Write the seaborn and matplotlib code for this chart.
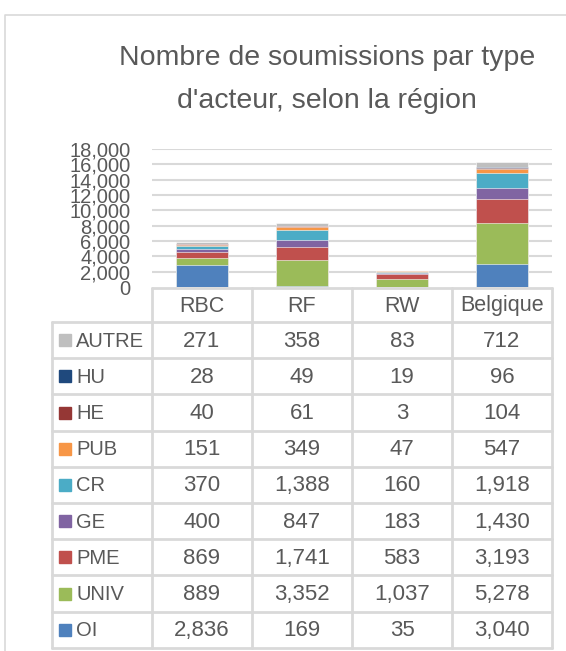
import numpy as np
import matplotlib
matplotlib.use("Agg")
import matplotlib.pyplot as plt
import seaborn as sns

# data (stack order bottom -> top)
regions = ["RBC", "RF", "RW", "Belgique"]
actors = ["OI", "UNIV", "PME", "GE", "CR", "PUB", "HE", "HU", "AUTRE"]
oi = [2836, 169, 35, 3040]
univ = [889, 3352, 1037, 5278]
pme = [869, 1741, 583, 3193]
ge = [400, 847, 183, 1430]
cr = [370, 1388, 160, 1918]
pub = [151, 349, 47, 547]
he = [40, 61, 3, 104]
hu = [28, 49, 19, 96]
autre = [271, 358, 83, 712]
yticks = list(range(0, 18001, 2000))

COLORS = {
    "OI": "#4F81BD", "UNIV": "#9BBB59", "PME": "#C0504D", "GE": "#8064A2",
    "CR": "#4BACC6", "PUB": "#F79646", "HE": "#953735", "HU": "#1F497D",
    "AUTRE": "#BFBFBF",
}
TXT = "#595959"
LINE = "#D9D9D9"

sns.set_theme(style="white")
plt.rcParams["font.family"] = ["Liberation Sans Narrow", "Liberation Sans", "DejaVu Sans"]

series = [oi, univ, pme, ge, cr, pub, he, hu, autre]
cum = np.cumsum(np.array(series), axis=0)

W, H = 566, 651
fig = plt.figure(figsize=(W / 100, H / 100), dpi=100)
fig.patch.set_facecolor("white")

# overlay in pixel coords for frame, title and data table
ov = fig.add_axes([0, 0, 1, 1])
ov.set_xlim(0, W)
ov.set_ylim(H, 0)
ov.axis("off")

# chart area
x0, x1, y0, y1 = 152, 552, 287, 149
ax = fig.add_axes([x0 / W, 1 - y0 / H, (x1 - x0) / W, (y0 - y1) / H])
ax.set_facecolor("none")

# draw cumulative stacks top -> bottom so lower segments overlay
for i in range(len(actors) - 1, -1, -1):
    sns.barplot(x=regions, y=cum[i], color=COLORS[actors[i]], width=0.52,
                saturation=1, edgecolor="white", linewidth=0.4, ax=ax, zorder=3)

ax.set_ylim(0, 18000)
ax.set_xlim(-0.5, 3.5)
ax.set_yticks(yticks)
ax.set_yticklabels([f"{v:,}" for v in yticks], fontsize=14.5, color=TXT)
ax.tick_params(axis="y", length=0, pad=15.5)
ax.set_xticks([])
ax.set_xlabel("")
ax.set_ylabel("")
for v in yticks[1:]:
    ax.axhline(v, color=LINE, lw=1.5, zorder=1)
for s in ax.spines.values():
    s.set_visible(False)

# outer frame
ov.plot([5, 5, W + 5], [H + 5, 15, 15], color=LINE, lw=1.2)

# title
ov.text(327, 65, "Nombre de soumissions par type", ha="center", va="baseline",
        fontsize=20.5, color=TXT)
ov.text(327, 108, "d'acteur, selon la région", ha="center", va="baseline",
        fontsize=20.5, color=TXT)

# data table
cols = [152, 252, 352, 452, 552]
hdr_top, hdr_bot = 288, 322
row_h = 36.2
n = len(actors)
tbl_bot = hdr_bot + n * row_h
lw = 2
ov.plot([cols[0], cols[-1]], [hdr_top, hdr_top], color=LINE, lw=lw)
ov.plot([52, cols[-1]], [hdr_bot, hdr_bot], color=LINE, lw=lw)
for c in cols:
    ov.plot([c, c], [hdr_top, tbl_bot], color=LINE, lw=lw)
ov.plot([52, 52], [hdr_bot, tbl_bot], color=LINE, lw=lw)
for j, reg in enumerate(regions):
    ov.text((cols[j] + cols[j + 1]) / 2, (hdr_top + hdr_bot) / 2 + 1, reg,
            ha="center", va="center", fontsize=15.5, color=TXT)

order = list(range(n - 1, -1, -1))  # AUTRE first
for r, i in enumerate(order):
    top = hdr_bot + r * row_h
    ov.plot([52, cols[-1]], [top + row_h, top + row_h], color=LINE, lw=lw)
    cy = top + row_h / 2
    ov.add_patch(plt.Rectangle((59, cy - 6), 12, 12, color=COLORS[actors[i]]))
    ov.text(76, cy + 1, actors[i], ha="left", va="center", fontsize=14.5, color=TXT)
    for j in range(len(regions)):
        ov.text((cols[j] + cols[j + 1]) / 2, cy + 1, f"{series[i][j]:,}",
                ha="center", va="center", fontsize=16, color=TXT)

plt.savefig("out.png", dpi=100)
plt.close()
